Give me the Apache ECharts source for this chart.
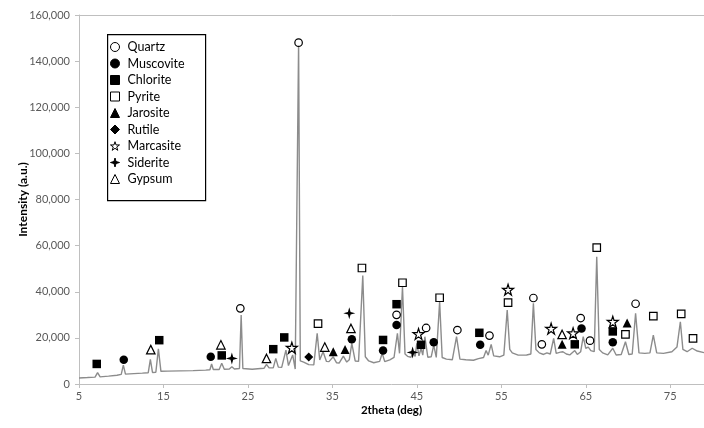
<!DOCTYPE html>
<html><head><meta charset="utf-8">
<script src="https://cdn.jsdelivr.net/npm/echarts@6/dist/echarts.min.js"></script>
<style>html,body{margin:0;padding:0;background:#fff}#c{width:704px;height:428px}</style>
</head><body><div id="c"></div>
<script>
// XRD pattern [2theta, intensity]
const pattern = [
[5.0,2600],[6.0,2800],[6.9,3000],[7.2,4900],[7.5,3100],[8.5,3400],[9.5,3800],[10.0,4200],[10.25,8200],[10.5,4300],
[11.5,4500],[12.5,4700],[13.2,4900],[13.45,10700],[13.7,5000],[14.1,5100],[14.4,15200],[14.7,5500],[15.5,5600],[17.0,5700],
[18.5,5800],[20.0,6000],[20.5,6200],[20.7,8700],[20.9,6300],[21.6,6300],[21.9,9000],[22.2,6400],[22.8,6500],[23.1,7500],
[23.4,6500],[24.0,6700],[24.2,29900],[24.4,6700],[25.5,6400],[26.5,6700],[26.7,7500],[26.9,6800],[27.2,8500],[27.5,7000],
[28.0,7000],[28.3,11100],[28.6,7300],[29.0,7200],[29.2,8000],[29.5,14700],[29.8,8000],[30.0,8500],[30.3,12600],[30.6,6500],
[30.8,7000],[31.0,147900],[31.2,10000],[31.6,9500],[32.2,8400],[32.8,8300],[33.2,22000],[33.5,10400],[33.9,14000],[34.3,9800],
[34.6,9700],[35.1,11800],[35.5,9200],[35.8,9100],[36.3,12100],[36.7,9500],[37.0,10500],[37.3,17600],[37.7,10000],[38.1,9800],
[38.6,47000],[38.9,11800],[39.3,10000],[39.9,9200],[40.6,9800],[40.9,13300],[41.2,9700],[41.8,10500],[42.3,11500],[42.7,22000],
[42.95,13300],[43.3,42200],[43.6,13000],[43.9,12000],[44.3,11600],[44.6,13500],[44.8,12000],[45.0,17600],[45.25,12200],[45.5,15500],
[45.7,12500],[45.95,20500],[46.3,11600],[46.7,11800],[47.0,16900],[47.3,11500],[47.7,35700],[48.0,11500],[48.5,10800],[49.2,10500],
[49.7,20500],[50.1,10800],[50.8,10500],[51.7,10300],[52.3,11000],[52.9,11500],[53.2,14500],[53.45,12500],[53.8,17200],[54.1,12200],
[54.8,11800],[55.3,12500],[55.7,32100],[56.0,15000],[56.3,13500],[57.0,12500],[58.0,12600],[58.5,13000],[58.8,35000],[59.1,15000],
[59.5,13500],[60.0,12800],[60.4,13500],[60.8,13000],[61.2,19800],[61.5,13300],[62.0,13800],[62.3,14000],[62.7,13000],[63.1,12600],
[63.7,14500],[64.0,12800],[64.4,14000],[64.7,20500],[65.0,15500],[65.3,16000],[65.6,14500],[66.0,14000],[66.3,55200],[66.6,15000],
[67.0,13500],[67.6,12600],[68.2,15500],[68.6,12600],[69.2,12800],[69.7,18300],[70.1,12800],[70.5,13000],[70.9,30700],[71.3,13500],
[72.0,13300],[72.6,13500],[73.0,21200],[73.4,13500],[74.2,13300],[75.2,14000],[75.8,16000],[76.2,27000],[76.5,15000],[77.0,14000],
[77.6,15500],[78.2,14300],[79.0,13600]
];
// Phase markers [2theta, intensity]
const quartz = [[24.1,32800],[31.0,148000],[42.6,30000],[46.1,24300],[49.8,23400],[53.6,21000],[58.8,37300],[59.8,17200],[64.4,28600],[65.5,18800],[70.9,34800]];
const muscovite = [[10.3,10500],[20.6,11800],[37.3,19400],[41.0,14500],[42.6,25600],[47.0,18100],[52.5,17000],[64.5,24100],[68.2,18100]];
const chlorite = [[7.1,8700],[14.5,19000],[21.9,12400],[28.0,15100],[29.3,20200],[41.0,19100],[42.6,34600],[45.5,17000],[52.4,22200],[63.7,17200],[68.2,22800]];
const pyrite = [[33.3,26200],[38.5,50300],[43.3,43900],[47.7,37400],[55.8,35300],[66.3,59100],[69.7,21500],[73.0,29400],[76.3,30400],[77.7,19800]];
const jarosite = [[35.1,14000],[36.5,15000],[62.2,17200],[69.9,26500]];
const rutile = [[32.2,11700]];
const marcasite = [[30.2,15700],[45.2,21700],[55.8,40900],[60.9,24000],[63.5,22000],[68.2,27000]];
const siderite = [[23.1,11100],[37.0,30700],[44.5,13700]];
const gypsum = [[13.5,14900],[21.8,17000],[27.2,11100],[34.1,16000],[37.2,24100],[62.2,21500]];

const legendNames = ['Quartz','Muscovite','Chlorite','Pyrite','Jarosite','Rutile','Marcasite','Siderite','Gypsum'];

const xTicks = {min:5, max:79, interval:10};
const yTicks = {min:0, max:160000, interval:20000};

const STAR5 = 'path://M50,2 L61,36 L97,36 L68,57 L79,92 L50,71 L21,92 L32,57 L3,36 L39,36 Z';
const STAR4 = 'path://M50,0 L61,39 L100,50 L61,61 L50,100 L39,61 L0,50 L39,39 Z';
const FONT = 'Lato, "Liberation Sans", sans-serif';

function mk(name, data, symbol, size, hollow) {
  return {
    name, type:'scatter', data, symbol, symbolSize:size, z:5,
    itemStyle: hollow ? {color:'#fff', borderColor:'#000', borderWidth:1.2, opacity:1}
                      : {color:'#000', borderColor:'#000', borderWidth:0, opacity:1},
    emphasis:{disabled:true}
  };
}

const chart = echarts.init(document.getElementById('c'), null, {renderer:'canvas'});
chart.setOption({
  animation:false,
  textStyle:{fontFamily:FONT},
  grid:{left:79, right:0, top:15, bottom:44},
  xAxis:[{
    type:'value', min:xTicks.min, max:xTicks.max, interval:xTicks.interval,
    name:'2theta (deg)', nameLocation:'middle', nameGap:20, nameMoveOverlap:false,
    nameTextStyle:{fontSize:11.5, fontWeight:'bold', color:'#000', fontFamily:FONT},
    axisLine:{lineStyle:{color:'#bfbfbf', width:1}},
    axisTick:{show:true, length:4, lineStyle:{color:'#bfbfbf'}},
    axisLabel:{fontSize:11, color:'#595959', margin:7, showMaxLabel:false, fontFamily:FONT},
    splitLine:{show:false}
  },{
    type:'value', position:'top', min:xTicks.min, max:xTicks.max,
    axisLine:{show:true, onZero:false, lineStyle:{color:'#bfbfbf', width:1}},
    axisTick:{show:false}, axisLabel:{show:false}, splitLine:{show:false}
  }],
  yAxis:{
    type:'value', min:yTicks.min, max:yTicks.max, interval:yTicks.interval,
    name:'Intensity (a.u.)', nameLocation:'middle', nameGap:50, nameMoveOverlap:false,
    nameTextStyle:{fontSize:12, fontWeight:'bold', color:'#000', fontFamily:FONT},
    axisLine:{show:true, lineStyle:{color:'#bfbfbf', width:1}},
    axisTick:{show:true, length:4, lineStyle:{color:'#bfbfbf'}},
    axisLabel:{fontSize:11, color:'#595959', margin:9, fontFamily:FONT},
    splitLine:{show:false}
  },
  graphic:[{type:'rect', left:107, top:34, shape:{width:98, height:166},
    style:{fill:'#fff', stroke:'#000', lineWidth:1.2}, z:1}],
  legend:{
    orient:'vertical', left:110, top:39, padding:0, itemGap:0.5,
    itemWidth:9, itemHeight:9, z:5,
    itemStyle:{borderWidth:1},
    textStyle:{fontSize:12.5, color:'#000', lineHeight:16, fontFamily:FONT, padding:[0,0,0,3]},
    data:legendNames
  },
  series:[
    {type:'line', data:pattern, showSymbol:false, symbol:'none', z:2,
     lineStyle:{color:'#8c8c8c', width:1.4}, silent:true},
    mk(legendNames[0], quartz, 'circle', 7.5, true),
    mk(legendNames[1], muscovite, 'circle', 8.5, false),
    mk(legendNames[2], chlorite, 'rect', 8.5, false),
    mk(legendNames[3], pyrite, 'rect', 7.5, true),
    mk(legendNames[4], jarosite, 'triangle', 9, false),
    mk(legendNames[5], rutile, 'diamond', 9, false),
    mk(legendNames[6], marcasite, STAR5, 11, true),
    mk(legendNames[7], siderite, STAR4, 12, false),
    mk(legendNames[8], gypsum, 'triangle', 8.5, true)
  ]
});
</script></body></html>
